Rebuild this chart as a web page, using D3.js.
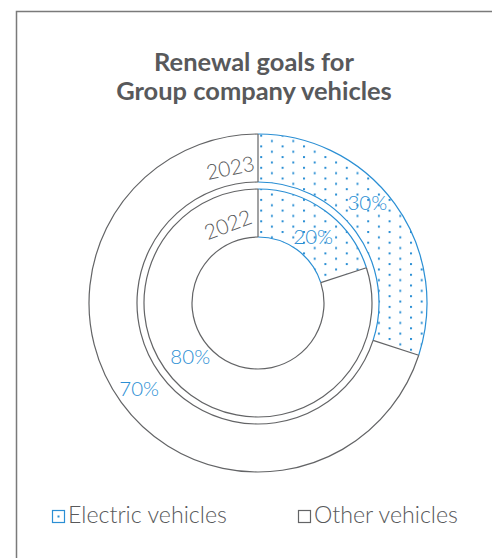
<!DOCTYPE html>
<html>
<head>
<meta charset="utf-8">
<script src="https://cdn.jsdelivr.net/npm/d3@7"></script>
<style>
  body { margin: 0; background: #fff; }
  svg { display: block; }
</style>
</head>
<body>
<div id="chart"></div>
<script>
// chart data
var years = ["2022", "2023"]
var categories = ["Electric vehicles", "Other vehicles"]
var electric = [20, 30]
var other = [80, 70]

var width = 492
var height = 558
var cx = 258
var cy = 303

var blue = "#2b8fd4"
var gray = "#636466"
var textGray = "#58595b"
var font = "Lato, 'Open Sans', sans-serif"

// rings: index 0 = 2022 (inner), index 1 = 2023 (outer)
var rings = [
  { inner: 66, outer: 114 },
  { inner: 121, outer: 169 }
]

var svg = d3.select("#chart")
  .append("svg")
  .attr("width", width)
  .attr("height", height)

// frame
svg.append("path")
  .attr("d", "M16.5," + height + " L16.5,11.5 L" + width + ",11.5")
  .attr("fill", "none")
  .attr("stroke", "#7a7a7a")
  .attr("stroke-width", 1.5)

// dotted pattern
var defs = svg.append("defs")
var pat = defs.append("pattern")
  .attr("id", "dots")
  .attr("patternUnits", "userSpaceOnUse")
  .attr("width", 21.4)
  .attr("height", 10.7)
  .attr("x", 259)
  .attr("y", 142)
pat.append("rect").attr("x", 0).attr("y", 0).attr("width", 2).attr("height", 2).attr("fill", blue)
pat.append("rect").attr("x", 10.7).attr("y", 5.35).attr("width", 2).attr("height", 2).attr("fill", blue)

// title, two separate lines
var titleLines = ["Renewal goals for", "Group company vehicles"]
var titleY = [71, 100]
var titleX = 254
var titleTexts = titleLines.map(function(l, i) {
  return svg.append("text")
    .attr("x", titleX)
    .attr("y", titleY[i])
    .attr("text-anchor", "middle")
    .attr("font-family", font)
    .attr("font-weight", 700)
    .attr("font-size", "25px")
    .attr("fill", textGray)
    .text(l)
})
// first line is about 200px wide in the reference
var tsize = 25 * 200 / titleTexts[0].node().getComputedTextLength()
titleTexts.forEach(function(t) { t.attr("font-size", tsize + "px") })

var pie = d3.pie().sort(null).value(function(d) { return d })
var g = svg.append("g").attr("transform", "translate(" + cx + "," + cy + ")")

years.forEach(function(year, i) {
  var slices = pie([electric[i], other[i]])
  var r = rings[i]
  var arc = d3.arc().innerRadius(r.inner).outerRadius(r.outer)

  // fills
  g.selectAll(".slice" + i)
    .data(slices)
    .enter()
    .append("path")
    .attr("d", arc)
    .attr("fill", function(d, k) { return k == 0 ? "url(#dots)" : "#fff" })
    .attr("stroke", "none")

  // arc edges, blue for electric, gray for other
  slices.forEach(function(s, k) {
    [r.inner, r.outer].forEach(function(rad) {
      var edge = d3.arc().innerRadius(rad).outerRadius(rad)
      g.append("path")
        .attr("d", edge(s))
        .attr("fill", "none")
        .attr("stroke", k == 0 ? blue : gray)
        .attr("stroke-width", 1.2)
    })
  })

  // radial separators
  slices.forEach(function(s) {
    var p0 = d3.pointRadial(s.startAngle, r.inner)
    var p1 = d3.pointRadial(s.startAngle, r.outer)
    g.append("line")
      .attr("x1", p0[0]).attr("y1", p0[1])
      .attr("x2", p1[0]).attr("y2", p1[1])
      .attr("stroke", gray)
      .attr("stroke-width", 1.2)
  })
})

// year labels, rotated along the ring
var yearLabelPos = [
  { angle: -21, radius: 85 },
  { angle: -11.6, radius: 139 }
]
years.forEach(function(year, i) {
  var a = yearLabelPos[i].angle
  var p = d3.pointRadial(a * Math.PI / 180, yearLabelPos[i].radius)
  g.append("text")
    .attr("transform", "translate(" + p[0] + "," + p[1] + ") rotate(" + a + ")")
    .attr("text-anchor", "middle")
    .attr("dominant-baseline", "central")
    .attr("font-family", font)
    .attr("font-weight", 300)
    .attr("font-size", "21px")
    .attr("fill", textGray)
    .text(year)
})

// percentage labels
var pctPos = [
  [{ angle: 39.4, radius: 87 }, { angle: 232, radius: 86 }],
  [{ angle: 47.2, radius: 149 }, { angle: 234.5, radius: 146 }]
]
years.forEach(function(year, i) {
  var vals = [electric[i], other[i]]
  vals.forEach(function(v, k) {
    var pos = pctPos[i][k]
    var p = d3.pointRadial(pos.angle * Math.PI / 180, pos.radius)
    g.append("text")
      .attr("x", p[0])
      .attr("y", p[1])
      .attr("text-anchor", "middle")
      .attr("dominant-baseline", "central")
      .attr("font-family", font)
      .attr("font-weight", 300)
      .attr("font-size", "20.5px")
      .attr("fill", blue)
      .text(v + "%")
  })
})

// legend
var legendX = [52, 298]
var legendTexts = []
categories.forEach(function(c, i) {
  var lg = svg.append("g").attr("transform", "translate(" + legendX[i] + ",510)")
  lg.append("rect")
    .attr("x", 0.5).attr("y", 0.5)
    .attr("width", 12).attr("height", 12)
    .attr("fill", "#fff")
    .attr("stroke", i == 0 ? blue : gray)
    .attr("stroke-width", 1.2)
  if (i == 0) {
    lg.append("rect")
      .attr("x", 5.5).attr("y", 5.5)
      .attr("width", 2).attr("height", 2)
      .attr("fill", blue)
  }
  var t = lg.append("text")
    .attr("x", 16)
    .attr("y", 13)
    .attr("font-family", font)
    .attr("font-weight", 300)
    .attr("font-size", "20px")
    .attr("fill", textGray)
    .text(c)
  legendTexts.push(t)
})
// size the legend font so "Electric vehicles" runs to about x=227
var lsize = 20 * 159 / legendTexts[0].node().getComputedTextLength()
legendTexts.forEach(function(t) { t.attr("font-size", lsize + "px") })
</script>
</body>
</html>
